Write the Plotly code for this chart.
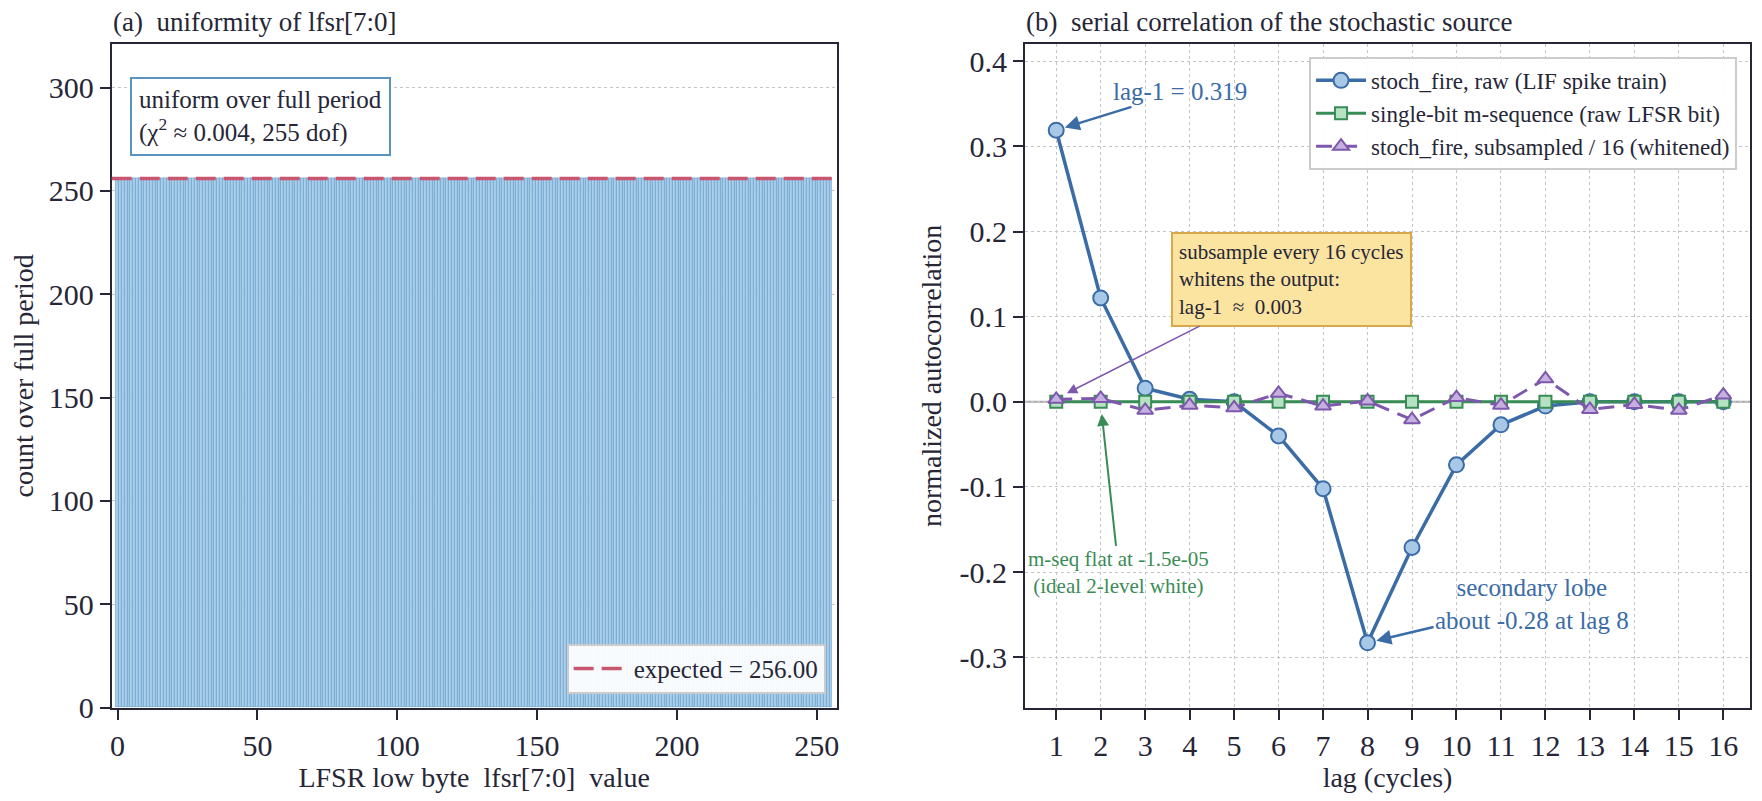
import plotly.graph_objects as go

# (a) histogram of lfsr[7:0] over one full LFSR period
byte_values = list(range(256))
byte_counts = [
    255, 256, 256, 256, 256, 256, 256, 256, 256, 256, 256, 256, 256, 256, 256, 256,
    256, 256, 256, 256, 256, 256, 256, 256, 256, 256, 256, 256, 256, 256, 256, 256,
    256, 256, 256, 256, 256, 256, 256, 256, 256, 256, 256, 256, 256, 256, 256, 256,
    256, 256, 256, 256, 256, 256, 256, 256, 256, 256, 256, 256, 256, 256, 256, 256,
    256, 256, 256, 256, 256, 256, 256, 256, 256, 256, 256, 256, 256, 256, 256, 256,
    256, 256, 256, 256, 256, 256, 256, 256, 256, 256, 256, 256, 256, 256, 256, 256,
    256, 256, 256, 256, 256, 256, 256, 256, 256, 256, 256, 256, 256, 256, 256, 256,
    256, 256, 256, 256, 256, 256, 256, 256, 256, 256, 256, 256, 256, 256, 256, 256,
    256, 256, 256, 256, 256, 256, 256, 256, 256, 256, 256, 256, 256, 256, 256, 256,
    256, 256, 256, 256, 256, 256, 256, 256, 256, 256, 256, 256, 256, 256, 256, 256,
    256, 256, 256, 256, 256, 256, 256, 256, 256, 256, 256, 256, 256, 256, 256, 256,
    256, 256, 256, 256, 256, 256, 256, 256, 256, 256, 256, 256, 256, 256, 256, 256,
    256, 256, 256, 256, 256, 256, 256, 256, 256, 256, 256, 256, 256, 256, 256, 256,
    256, 256, 256, 256, 256, 256, 256, 256, 256, 256, 256, 256, 256, 256, 256, 256,
    256, 256, 256, 256, 256, 256, 256, 256, 256, 256, 256, 256, 256, 256, 256, 256,
    256, 256, 256, 256, 256, 256, 256, 256, 256, 256, 256, 256, 256, 256, 256, 256,
]
expected_count = 256.0
hist_xticks = [0, 50, 100, 150, 200, 250]
hist_yticks = [0, 50, 100, 150, 200, 250, 300]

# (b) normalized autocorrelation vs lag
lags = [1, 2, 3, 4, 5, 6, 7, 8, 9, 10, 11, 12, 13, 14, 15, 16]
acf_raw = [0.319, 0.122, 0.016, 0.003, 0.0, -0.040, -0.102, -0.283,
           -0.171, -0.074, -0.027, -0.005, 0.0, 0.0, 0.0, 0.0]
acf_mseq = [-1.5e-05, -1.5e-05, -1.5e-05, -1.5e-05, -1.5e-05, -1.5e-05, -1.5e-05, -1.5e-05,
            -1.5e-05, -1.5e-05, -1.5e-05, -1.5e-05, -1.5e-05, -1.5e-05, -1.5e-05, -1.5e-05]
acf_sub = [0.003, 0.004, -0.010, -0.004, -0.007, 0.010, -0.005, 0.001,
           -0.021, 0.005, -0.004, 0.027, -0.009, -0.003, -0.010, 0.008]
acf_yticks = [-0.3, -0.2, -0.1, 0.0, 0.1, 0.2, 0.3, 0.4]
acf_ylabels = ['-0.3', '-0.2', '-0.1', '0.0', '0.1', '0.2', '0.3', '0.4']

INK = '#262637'
GRID = '#c4c4cc'
BLUE = '#3b6ca6'
GREEN = '#3a8c56'
PURPLE = '#7e58ac'
RED = '#c9566f'
FONT = 'Liberation Serif, Times New Roman, serif'

# page body has an 8px margin, so the figure is 16px smaller than the window
W, H = 1746, 785
OFF = 8
TOP, BOTTOM = 45, 723


def px_x(p):
    return (p - OFF) / W


def px_y(p):
    return (H - (p - OFF)) / H


fig = go.Figure()

# ---- panel (a)
fig.add_trace(go.Bar(
    x=byte_values, y=byte_counts, width=1,
    marker=dict(color='#a9d0ea', line=dict(color='#6399c6', width=0.6)),
    showlegend=False, xaxis='x', yaxis='y'
))
fig.add_shape(
    type='line', xref='x domain', yref='y', x0=0, x1=1,
    y0=expected_count, y1=expected_count,
    line=dict(color=RED, width=3.5, dash='20px,8px'),
    name='expected = %.2f' % expected_count, showlegend=True, legend='legend'
)

# ---- panel (b)
fig.add_trace(go.Scatter(
    x=lags, y=acf_raw, mode='lines+markers',
    name='stoch_fire, raw (LIF spike train)',
    line=dict(color=BLUE, width=3.5),
    marker=dict(symbol='circle', size=15, color='#a8c8e8', line=dict(color=BLUE, width=2)),
    xaxis='x2', yaxis='y2', legend='legend2'
))
fig.add_trace(go.Scatter(
    x=lags, y=acf_mseq, mode='lines+markers',
    name='single-bit m-sequence (raw LFSR bit)',
    line=dict(color=GREEN, width=3),
    marker=dict(symbol='square', size=12, color='#b6e2c4', line=dict(color=GREEN, width=2)),
    xaxis='x2', yaxis='y2', legend='legend2'
))
fig.add_trace(go.Scatter(
    x=lags, y=acf_sub, mode='lines+markers',
    name='stoch_fire, subsampled / 16 (whitened)',
    line=dict(color=PURPLE, width=3, dash='16px,9px'),
    marker=dict(symbol='triangle-up', size=14, color='#c6b0e0', line=dict(color=PURPLE, width=2)),
    xaxis='x2', yaxis='y2', legend='legend2'
))

axis_common = dict(
    showline=True, linecolor=INK, linewidth=2, mirror=True,
    ticks='outside', ticklen=10, tickwidth=2, tickcolor=INK,
    tickfont=dict(family=FONT, size=30, color=INK),
    zeroline=False,
)
title_font = dict(family=FONT, size=28, color=INK)

fig.update_layout(
    width=W, height=H, autosize=False,
    margin=dict(l=0, r=0, t=0, b=0),
    paper_bgcolor='white', plot_bgcolor='white',
    font=dict(family=FONT, color=INK),
    bargap=0,
    xaxis=dict(
        domain=[px_x(110), px_x(837)], range=[-2.1, 257.1],
        tickvals=hist_xticks, showgrid=False,
        title=dict(text='LFSR low byte \u00a0lfsr[7:0] \u00a0value', font=title_font, standoff=8),
        anchor='y', **axis_common
    ),
    yaxis=dict(
        domain=[px_y(BOTTOM), px_y(TOP)], range=[0, 321],
        tickvals=hist_yticks, showgrid=True, gridcolor=GRID, griddash='dot', gridwidth=1,
        title=dict(text='count over full period', font=title_font, standoff=10),
        anchor='x', **axis_common
    ),
    xaxis2=dict(
        domain=[px_x(1026), px_x(1753)], range=[0.3, 16.6],
        tickvals=lags, showgrid=True, gridcolor=GRID, griddash='dot', gridwidth=1,
        title=dict(text='lag (cycles)', font=title_font, standoff=8),
        anchor='y2', **axis_common
    ),
    yaxis2=dict(
        domain=[px_y(BOTTOM), px_y(TOP)], range=[-0.359, 0.42],
        tickvals=acf_yticks, ticktext=acf_ylabels,
        showgrid=True, gridcolor=GRID, griddash='dot', gridwidth=1,
        title=dict(text='normalized autocorrelation', font=title_font, standoff=10),
        anchor='x2', **axis_common
    ),
    legend=dict(
        x=px_x(826), xanchor='right', y=px_y(709), yanchor='bottom',
        bgcolor='rgba(255,255,255,0.92)', bordercolor='#cccccc', borderwidth=2,
        itemwidth=55, font=dict(family=FONT, size=25, color=INK)
    ),
    legend2=dict(
        x=px_x(1740), xanchor='right', y=px_y(58), yanchor='top',
        bgcolor='rgba(255,255,255,0.92)', bordercolor='#cccccc', borderwidth=2,
        itemwidth=50, font=dict(family=FONT, size=23, color=INK), tracegroupgap=0
    ),
)

# zero reference line in (b)
fig.add_shape(type='line', xref='x2 domain', yref='y2', x0=0, x1=1, y0=0, y1=0,
              line=dict(color='#a8a8a8', width=2), layer='below')

annotations = [
    # panel titles
    dict(text='(a)\u00a0 uniformity of lfsr[7:0]', xref='paper', yref='paper',
         x=px_x(109), y=px_y(22), xanchor='left', yanchor='middle', showarrow=False,
         font=dict(family=FONT, size=27, color=INK)),
    dict(text='(b)\u00a0 serial correlation of the stochastic source', xref='paper', yref='paper',
         x=px_x(1025), y=px_y(22), xanchor='left', yanchor='middle', showarrow=False,
         font=dict(family=FONT, size=27, color=INK)),
    # (a) info box
    dict(text='uniform over full period<br>(\u03c7<sup>2</sup> \u2248 0.004, 255 dof)',
         xref='x', yref='y', x=4.6, y=305, xanchor='left', yanchor='top',
         showarrow=False, align='left', bgcolor='white', bordercolor='#5b93c0',
         borderwidth=2, borderpad=7, font=dict(family=FONT, size=25, color=INK)),
    # (b) callouts
    dict(text='lag-1 = 0.319', xref='x2', yref='y2', x=1, y=0.319,
         ax=3.78, ay=0.364, axref='x2', ayref='y2', showarrow=True,
         arrowhead=2, arrowsize=1.2, arrowwidth=2.5, arrowcolor=BLUE, standoff=9,
         font=dict(family=FONT, size=25, color=BLUE)),
    dict(text='subsample every 16 cycles<br>whitens the output:<br>lag-1 \u00a0\u2248\u00a0 0.003',
         xref='x2', yref='y2', x=1.2, y=0.009,
         ax=6.29, ay=0.1435, axref='x2', ayref='y2', showarrow=True,
         arrowhead=2, arrowsize=1.3, arrowwidth=1.6, arrowcolor=PURPLE, standoff=2,
         align='left', bgcolor='#fbe3a0', bordercolor='#d7a94c', borderwidth=2, borderpad=6,
         font=dict(family=FONT, size=21, color=INK)),
    dict(text='m-seq flat at -1.5e-05<br>(ideal 2-level white)',
         xref='x2', yref='y2', x=2.02, y=-0.012,
         ax=2.41, ay=-0.201, axref='x2', ayref='y2', showarrow=True,
         arrowhead=2, arrowsize=1.2, arrowwidth=2, arrowcolor=GREEN, standoff=2,
         font=dict(family=FONT, size=21, color=GREEN)),
    dict(text='secondary lobe<br>about -0.28 at lag 8',
         xref='x2', yref='y2', x=8, y=-0.283,
         ax=11.7, ay=-0.237, axref='x2', ayref='y2', showarrow=True,
         arrowhead=2, arrowsize=1.2, arrowwidth=2.5, arrowcolor=BLUE, standoff=9,
         font=dict(family=FONT, size=25, color=BLUE)),
]
fig.update_layout(annotations=annotations)

fig.write_html("out.html")
